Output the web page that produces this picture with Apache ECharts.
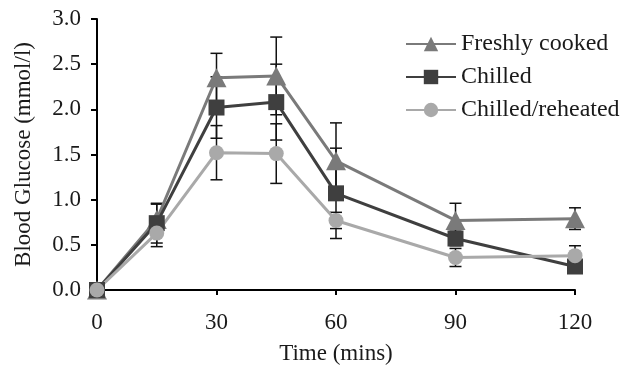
<!DOCTYPE html>
<html>
<head>
<meta charset="utf-8">
<script src="https://cdn.jsdelivr.net/npm/echarts@6/dist/echarts.min.js"></script>
<style>
  html, body { margin: 0; padding: 0; background: #fff; }
  #chart { width: 625px; height: 367px; }
</style>
</head>
<body>
<div id="chart"></div>
<script>
// 时间点 (mins)
var times = [0, 15, 30, 45, 60, 90, 120];

var names = ['Freshly cooked', 'Chilled', 'Chilled/reheated'];
var fresh = [0, 0.78, 2.35, 2.37, 1.43, 0.77, 0.79];
var chilled = [0, 0.74, 2.02, 2.08, 1.07, 0.57, 0.26];
var reheated = [0, 0.63, 1.52, 1.51, 0.77, 0.36, 0.38];

// 误差 (±)
var freshErr = [0, 0.17, 0.27, 0.43, 0.42, 0.19, 0.12];
var chilledErr = [0, 0.22, 0.34, 0.42, 0.5, 0.08, 0.06];
var reheatedErr = [0, 0.15, 0.3, 0.33, 0.09, 0.1, 0.11];

var serif = 'Liberation Serif';
var txt = '#1a1a1a';

var chart = echarts.init(document.getElementById('chart'));

function pairs(vals) {
    return times.map(function(t, i) { return [t, vals[i]]; });
}

var errData = [];
[[fresh, freshErr], [chilled, chilledErr], [reheated, reheatedErr]].forEach(function(p) {
    times.forEach(function(t, i) {
        if (p[1][i] > 0) errData.push([t, p[0][i] - p[1][i], p[0][i] + p[1][i]]);
    });
});

function lineSeries(name, vals, color, symbol, size) {
    return {
        name: name,
        type: 'line',
        data: pairs(vals),
        symbol: symbol,
        symbolSize: size,
        showSymbol: true,
        clip: false,
        z: 3,
        lineStyle: { color: color, width: 3 },
        itemStyle: { color: color, borderWidth: 0 },
        emphasis: { disabled: true }
    };
}

var option = {
    animation: false,
    backgroundColor: '#fff',
    grid: { left: 97, right: 50, top: 19, bottom: 77, outerBoundsMode: 'none' },
    legend: {
        left: 405,
        top: 32,
        orient: 'vertical',
        padding: 0,
        itemWidth: 50,
        itemHeight: 18,
        itemGap: 9,
        data: names,
        textStyle: { fontFamily: serif, fontSize: 24, color: txt }
    },
    xAxis: {
        type: 'value',
        min: 0,
        max: 120,
        interval: 30,
        name: 'Time (mins)',
        nameLocation: 'middle',
        nameGap: 52,
        nameTextStyle: { fontFamily: serif, fontSize: 23, color: txt },
        axisLine: { lineStyle: { color: '#000', width: 2 } },
        axisTick: { show: true, length: 5, lineStyle: { color: '#000', width: 2 } },
        axisLabel: { fontFamily: serif, fontSize: 23, color: txt, margin: 21 },
        splitLine: { show: false }
    },
    yAxis: {
        type: 'value',
        min: 0,
        max: 3,
        interval: 0.5,
        name: 'Blood Glucose (mmol/l)',
        nameLocation: 'middle',
        nameGap: 62,
        nameRotate: 90,
        nameTextStyle: { fontFamily: serif, fontSize: 23, color: txt },
        axisLine: { show: true, lineStyle: { color: '#000', width: 2 } },
        axisTick: { show: true, length: 6, lineStyle: { color: '#000', width: 2 } },
        axisLabel: {
            fontFamily: serif, fontSize: 23, color: txt, margin: 16,
            formatter: function(v) { return v.toFixed(1); }
        },
        splitLine: { show: false }
    },
    series: [
        {
            type: 'custom',
            z: 1,
            silent: true,
            data: errData,
            clip: false,
            renderItem: function(params, api) {
                var lo = api.coord([api.value(0), api.value(1)]);
                var hi = api.coord([api.value(0), api.value(2)]);
                var w = 6;
                var st = { stroke: '#111', lineWidth: 1.5 };
                return {
                    type: 'group',
                    children: [
                        { type: 'line', shape: { x1: lo[0], y1: lo[1], x2: hi[0], y2: hi[1] }, style: st },
                        { type: 'line', shape: { x1: lo[0] - w, y1: lo[1], x2: lo[0] + w, y2: lo[1] }, style: st },
                        { type: 'line', shape: { x1: hi[0] - w, y1: hi[1], x2: hi[0] + w, y2: hi[1] }, style: st }
                    ]
                };
            }
        },
        lineSeries(names[0], fresh, '#7a7a7a', 'triangle', [20, 19]),
        lineSeries(names[1], chilled, '#3f3f3f', 'rect', 16),
        lineSeries(names[2], reheated, '#a9a9a9', 'circle', 15)
    ]
};

chart.setOption(option);
</script>
</body>
</html>
